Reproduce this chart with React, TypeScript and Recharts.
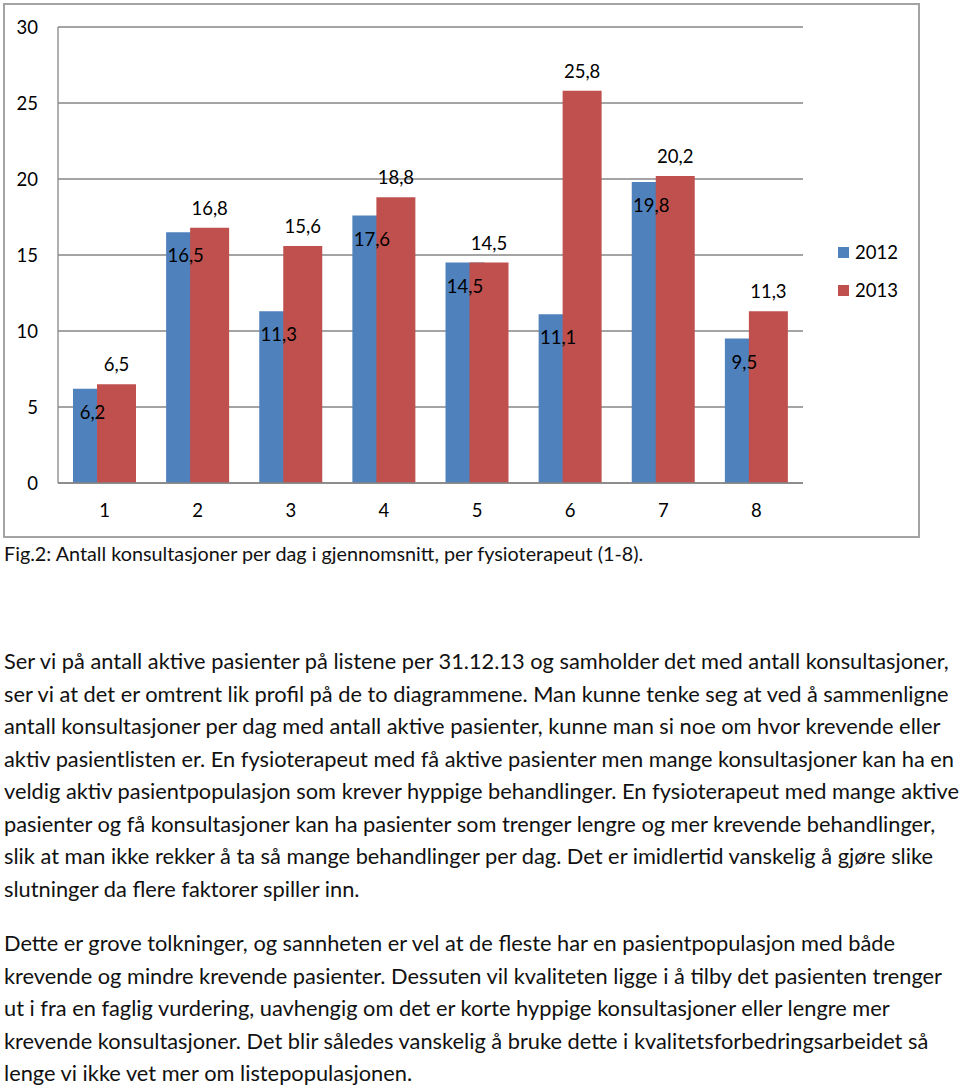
import React from 'react';
import { BarChart, Bar, XAxis, YAxis, CartesianGrid, Legend, LabelList } from 'recharts';

const categories = ['1', '2', '3', '4', '5', '6', '7', '8'];
const values2012 = [6.2, 16.5, 11.3, 17.6, 14.5, 11.1, 19.8, 9.5];
const values2013 = [6.5, 16.8, 15.6, 18.8, 14.5, 25.8, 20.2, 11.3];
const yTicks = [0, 5, 10, 15, 20, 25, 30];

const caption = 'Fig.2: Antall konsultasjoner per dag i gjennomsnitt, per fysioterapeut (1-8).';
const para1 = [
  'Ser vi på antall aktive pasienter på listene per 31.12.13 og samholder det med antall konsultasjoner,',
  'ser vi at det er omtrent lik profil på de to diagrammene. Man kunne tenke seg at ved å sammenligne',
  'antall konsultasjoner per dag med antall aktive pasienter, kunne man si noe om hvor krevende eller',
  'aktiv pasientlisten er. En fysioterapeut med få aktive pasienter men mange konsultasjoner kan ha en',
  'veldig aktiv pasientpopulasjon som krever hyppige behandlinger. En fysioterapeut med mange aktive',
  'pasienter og få konsultasjoner kan ha pasienter som trenger lengre og mer krevende behandlinger,',
  'slik at man ikke rekker å ta så mange behandlinger per dag. Det er imidlertid vanskelig å gjøre slike',
  'slutninger da flere faktorer spiller inn.',
];
const para2 = [
  'Dette er grove tolkninger, og sannheten er vel at de fleste har en pasientpopulasjon med både',
  'krevende og mindre krevende pasienter. Dessuten vil kvaliteten ligge i å tilby det pasienten trenger',
  'ut i fra en faglig vurdering, uavhengig om det er korte hyppige konsultasjoner eller lengre mer',
  'krevende konsultasjoner. Det blir således vanskelig å bruke dette i kvalitetsforbedringsarbeidet så',
  'lenge vi ikke vet mer om listepopulasjonen.',
];

const data = categories.map((c, i) => ({ name: c, y2012: values2012[i], y2013: values2013[i] }));

const FONT = 'Lato, "Liberation Sans", sans-serif';
const comma = (v: any) => String(v).replace('.', ',');

function LegendBox({ payload }: any) {
  return (
    <div style={{ fontFamily: FONT, fontSize: 18.5, color: '#000' }}>
      {(payload || []).map((p: any) => (
        <div key={p.value} style={{ display: 'flex', alignItems: 'center', height: 38 }}>
          <span style={{ width: 11, height: 11, background: p.color, marginRight: 6, display: 'inline-block' }} />
          <span>{p.value}</span>
        </div>
      ))}
    </div>
  );
}

export default function App() {
  const textStyle: React.CSSProperties = {
    position: 'absolute', left: 4, fontFamily: FONT, fontSize: 21.8, lineHeight: '32.5px',
    color: '#111', whiteSpace: 'nowrap',
  };
  return (
    <div style={{ position: 'absolute', left: 0, top: 0, width: 960, height: 1090, background: '#fff' }}>
      <div style={{ position: 'absolute', left: 3, top: 3, width: 917, height: 535, boxSizing: 'border-box', border: '2px solid #a3a3a3' }} />
      <div style={{ position: 'absolute', left: 0, top: 0 }}>
        <BarChart width={960} height={540} data={data} margin={{ top: 27, right: 157, bottom: 0, left: 0 }}
          barSize={39} barGap={-15}>
          <CartesianGrid vertical={false} stroke="#868686" strokeWidth={1.3} />
          <XAxis dataKey="name" height={57} tickLine={false} tickSize={0} tickMargin={21}
            axisLine={{ stroke: '#868686', strokeWidth: 1.3 }}
            tick={{ fill: '#000', fontSize: 18.5, fontFamily: FONT }} />
          <YAxis width={58} domain={[0, 30]} ticks={yTicks} tickLine={false} tickSize={0} tickMargin={20}
            axisLine={{ stroke: '#868686', strokeWidth: 1.3 }}
            tick={{ fill: '#000', fontSize: 18.5, fontFamily: FONT }} />
          <Legend layout="horizontal" verticalAlign="middle" align="center" content={<LegendBox />}
            wrapperStyle={{ left: 838, top: 233, width: 80 }} />
          <Bar dataKey="y2012" name="2012" fill="#4F81BD" isAnimationActive={false}>
            <LabelList dataKey="y2012" position="insideTop" offset={17} formatter={comma}
              style={{ fill: '#000', fontSize: 18.5, fontFamily: FONT }} />
          </Bar>
          <Bar dataKey="y2013" name="2013" fill="#C0504D" isAnimationActive={false}>
            <LabelList dataKey="y2013" position="top" offset={13} formatter={comma}
              style={{ fill: '#000', fontSize: 18.5, fontFamily: FONT }} />
          </Bar>
        </BarChart>
      </div>
      <div style={{ ...textStyle, top: 538, fontSize: 19.8, lineHeight: '30px' }}>{caption}</div>
      <div style={{ ...textStyle, top: 645 }}>
        {para1.map((l) => <div key={l}>{l}</div>)}
      </div>
      <div style={{ ...textStyle, top: 927 }}>
        {para2.map((l) => <div key={l}>{l}</div>)}
      </div>
    </div>
  );
}
